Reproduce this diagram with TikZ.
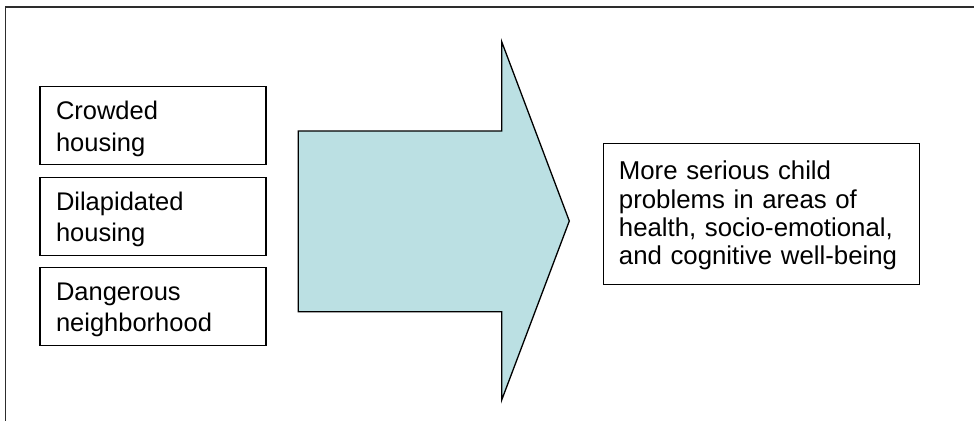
\documentclass[tikz,border=0pt]{standalone}
\usepackage{fontspec}
\setmainfont{Liberation Sans}
\definecolor{arrowfill}{RGB}{187,224,227}
\definecolor{framecol}{RGB}{45,45,45}
\begin{document}
\begin{tikzpicture}[x=1pt,y=-1pt,
  causebox/.style={draw=black, line width=1.4pt, rectangle, anchor=north west,
    minimum width=226pt, minimum height=78pt, inner xsep=16pt, inner ysep=0pt,
    text width=194pt, align=left,
    font=\fontsize{25.5pt}{31.6pt}\selectfont,
    execute at begin node=\rule{0pt}{24.5pt}},
  outbox/.style={draw=black, line width=1.4pt, rectangle, anchor=north west,
    minimum width=316pt, minimum height=141pt, inner xsep=15.5pt, inner ysep=0pt,
    text width=285pt, align=left,
    font=\fontsize{25.8pt}{28.2pt}\selectfont,
    execute at begin node=\rule{0pt}{22pt}},
  bigarrow/.style={draw=black, line width=1.3pt, fill=arrowfill, line join=miter}]
\useasboundingbox (0,0) rectangle (974,421);
% open frame
\draw[framecol, line width=1.8pt] (974,6.8) -- (5.5,6.8) -- (5.5,421);
% left boxes
\node[causebox] (b1) at (39.3,86) {Crowded\\housing};
\node[causebox] (b2) at (39.3,176.7) {Dilapidated\\housing};
\node[causebox] (b3) at (39.3,266.7) {Dangerous\\neighborhood};
% big arrow
\draw[bigarrow] (298.3,131) -- (501.7,131) -- (501.7,41.7) -- (569.3,221)
  -- (501.7,400) -- (501.7,311.7) -- (298.3,311.7) -- cycle;
% outcome box
\node[outbox] (out) at (602.7,142.7) {More serious child\\problems in areas of\\health, socio-emotional,\\and cognitive well-being};
\end{tikzpicture}
\end{document}
